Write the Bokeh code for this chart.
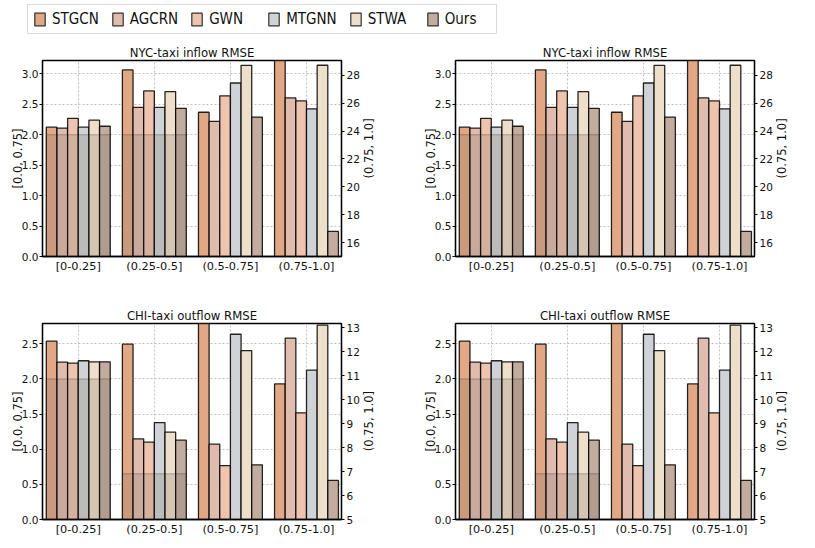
import math
import numpy as np
from bokeh.plotting import figure
from bokeh.models import (Range1d, LinearAxis, FixedTicker, PrintfTickFormatter,
                          Legend, LegendItem)
from bokeh.layouts import column, row
from bokeh.embed import file_html
from bokeh.resources import INLINE
from bokeh.core.properties import value

# ---------------- data ----------------
groups = ["[0-0.25]", "(0.25-0.5]", "(0.5-0.75]", "(0.75-1.0]"]
models = ["STGCN", "AGCRN", "GWN", "MTGNN", "STWA", "Ours"]
colors = ["#E2A886", "#DFBCAE", "#EFC4AE", "#CFD2D7", "#EEDFCB", "#C1AC9E"]

# NYC-taxi inflow RMSE: first three groups read on left axis, last group on right axis
nyc_stgcn = [2.125, 3.065, 2.37, 29.6]
nyc_agcrn = [2.11, 2.45, 2.22, 26.38]
nyc_gwn = [2.27, 2.72, 2.64, 26.17]
nyc_mtgnn = [2.125, 2.45, 2.85, 25.6]
nyc_stwa = [2.24, 2.71, 3.14, 28.73]
nyc_ours = [2.14, 2.435, 2.29, 16.8]
nyc_shade = [2.0, 2.0]
nyc_left_ticks = [0.0, 0.5, 1.0, 1.5, 2.0, 2.5, 3.0]
nyc_right_ticks = [16, 18, 20, 22, 24, 26, 28]
nyc_left_range = (0.0, 3.22)
nyc_right_range = (15.0, 29.07)

# CHI-taxi outflow RMSE
chi_stgcn = [2.538, 2.495, 2.9, 10.66]
chi_agcrn = [2.24, 1.148, 1.072, 12.57]
chi_gwn = [2.225, 1.10, 0.768, 9.45]
chi_mtgnn = [2.26, 1.38, 2.637, 11.23]
chi_stwa = [2.245, 1.243, 2.405, 13.11]
chi_ours = [2.245, 1.129, 0.778, 6.63]
chi_shade = [2.0, 0.65]
chi_left_ticks = [0.0, 0.5, 1.0, 1.5, 2.0, 2.5]
chi_right_ticks = [5, 6, 7, 8, 9, 10, 11, 12, 13]
chi_left_range = (0.0, 2.79)
chi_right_range = (5.0, 13.18)

left_label = "[0.0, 0.75]"
right_label = "(0.75, 1.0]"

nyc = [nyc_stgcn, nyc_agcrn, nyc_gwn, nyc_mtgnn, nyc_stwa, nyc_ours]
chi = [chi_stgcn, chi_agcrn, chi_gwn, chi_mtgnn, chi_stwa, chi_ours]

FONT = "DejaVu Sans"
TXT = "#111111"
BAR_W = 0.14
SHADE_COLOR = "#7a6a5e"
X_RANGE = (-0.47, 3.46)
FRAME_W, FRAME_H = 299, 196
B_LEFT, B_RIGHT = 42, 18


def panel(title, series, shade, lticks, rticks, lrange, rrange,
          border_top, border_bottom):
    p = figure(frame_width=FRAME_W, frame_height=FRAME_H, output_backend="svg",
               toolbar_location=None,
               x_range=Range1d(*X_RANGE), y_range=Range1d(*lrange),
               min_border_left=B_LEFT, min_border_right=B_RIGHT,
               min_border_top=border_top, min_border_bottom=border_bottom)
    p.extra_y_ranges = {"r": Range1d(*rrange)}
    p.title.text = title
    p.title.align = "center"
    p.title.text_font = FONT
    p.title.text_font_size = "11.7px"
    p.title.text_font_style = "normal"
    p.title.text_color = TXT
    p.title.standoff = 2
    p.outline_line_color = "black"
    p.outline_line_width = 1.3

    n_groups = len(groups)
    gidx = np.arange(n_groups)
    n_left = n_groups - 1
    for i, (vals, col) in enumerate(zip(series, colors)):
        off = (i - (len(series) - 1) / 2) * BAR_W
        p.vbar(x=list(gidx[:n_left] + off), top=vals[:n_left], bottom=0,
               width=BAR_W, fill_color=col, line_color="black",
               line_width=1.3, line_alpha=0.85)
        p.vbar(x=[gidx[n_left] + off], top=[vals[n_left]], bottom=0,
               width=BAR_W, fill_color=col, line_color="black",
               line_width=1.3, line_alpha=0.85, y_range_name="r")
    for g, s in enumerate(shade):
        for i in range(len(series)):
            off = (i - (len(series) - 1) / 2) * BAR_W
            p.vbar(x=[g + off], top=[s], bottom=0, width=BAR_W,
                   fill_color=SHADE_COLOR, fill_alpha=0.22,
                   line_color="black", line_alpha=0.25, line_width=1.0)

    # axes
    xa = p.xaxis[0]
    xa.ticker = FixedTicker(ticks=list(gidx))
    xa.major_label_overrides = {int(k): groups[k] for k in gidx}
    xa.major_label_text_font = FONT
    xa.major_label_text_font_size = "11.3px"
    xa.major_label_text_color = TXT
    xa.major_label_standoff = 3
    xa.major_tick_in = 0
    xa.major_tick_out = 0
    xa.minor_tick_line_color = None
    xa.axis_line_width = 1.3

    ya = p.yaxis[0]
    ya.ticker = FixedTicker(ticks=lticks)
    ya.formatter = PrintfTickFormatter(format="%.1f")
    ya.axis_label = left_label
    ya.axis_label_text_font = FONT
    ya.axis_label_text_font_size = "11.5px"
    ya.axis_label_text_font_style = "normal"
    ya.axis_label_text_color = TXT
    ya.axis_label_standoff = -6
    ya.major_label_text_font = FONT
    ya.major_label_text_font_size = "10.5px"
    ya.major_label_text_color = TXT
    ya.major_label_standoff = 1
    ya.major_tick_in = 0
    ya.major_tick_out = 3
    ya.minor_tick_line_color = None
    ya.axis_line_width = 1.3

    ra = LinearAxis(y_range_name="r", ticker=FixedTicker(ticks=rticks))
    ra.major_label_text_font = FONT
    ra.major_label_text_font_size = "10.5px"
    ra.major_label_text_color = TXT
    ra.major_label_standoff = 2
    ra.major_tick_in = 0
    ra.major_tick_out = 3
    ra.minor_tick_line_color = None
    ra.axis_line_width = 1.3
    p.add_layout(ra, "right")

    p.xgrid.ticker = FixedTicker(ticks=list(gidx))
    p.ygrid.ticker = FixedTicker(ticks=lticks)
    p.grid.grid_line_color = "#b0b0b0"
    p.grid.grid_line_dash = "2 2"
    p.grid.grid_line_width = 0.8
    return p


def right_title(width, border_top, border_bottom):
    """Narrow strip carrying the right-axis title, read bottom-to-top."""
    h = border_top + FRAME_H + border_bottom
    f = figure(width=width, height=h, output_backend="svg", toolbar_location=None,
               x_axis_type=None, y_axis_type=None, min_border=0,
               x_range=Range1d(0, width), y_range=Range1d(0, h))
    f.grid.visible = False
    f.outline_line_color = None
    f.text(x=[6], y=[border_bottom + FRAME_H / 2], text=[right_label],
           angle=math.pi / 2, text_align="center", text_baseline="middle",
           text_font=value(FONT), text_font_size=value("11.5px"),
           text_color=TXT)
    return f


TOP_T, TOP_B = 20, 47
BOT_T, BOT_B = 20, 21

p1 = panel("NYC-taxi inflow RMSE", nyc, nyc_shade, nyc_left_ticks, nyc_right_ticks,
           nyc_left_range, nyc_right_range, TOP_T, TOP_B)
p2 = panel("NYC-taxi inflow RMSE", nyc, nyc_shade, nyc_left_ticks, nyc_right_ticks,
           nyc_left_range, nyc_right_range, TOP_T, TOP_B)
p3 = panel("CHI-taxi outflow RMSE", chi, chi_shade, chi_left_ticks, chi_right_ticks,
           chi_left_range, chi_right_range, BOT_T, BOT_B)
p4 = panel("CHI-taxi outflow RMSE", chi, chi_shade, chi_left_ticks, chi_right_ticks,
           chi_left_range, chi_right_range, BOT_T, BOT_B)

PANEL_W = B_LEFT + FRAME_W + B_RIGHT
GAP_W = 410 - PANEL_W
END_W = 40

# legend strip
pl = figure(width=2 * PANEL_W + GAP_W + END_W, height=40, output_backend="svg",
            toolbar_location=None, x_axis_type=None, y_axis_type=None, min_border=0,
            x_range=Range1d(0, 1), y_range=Range1d(0, 1))
pl.grid.visible = False
pl.outline_line_color = None
items = []
for m, c in zip(models, colors):
    # proxy bars kept out of view; they only feed the legend swatches
    r = pl.vbar(x=[-5], top=[-4], bottom=-5, width=0.1, fill_color=c,
                line_color="#333333", line_width=1.2)
    items.append(LegendItem(label=m, renderers=[r]))
leg = Legend(items=items, orientation="horizontal", location=(27, 6), margin=0,
             border_line_color="#b5b5b5", border_line_width=1.5,
             padding=5, spacing=12, glyph_width=13, glyph_height=16,
             label_standoff=6, label_width=46, label_height=16,
             label_text_font="Liberation Sans Narrow, DejaVu Sans Condensed, Roboto",
             label_text_font_size="15px", label_text_color=TXT)
pl.add_layout(leg, "center")

layout = column(
    pl,
    row(p1, right_title(GAP_W, TOP_T, TOP_B), p2, right_title(END_W, TOP_T, TOP_B)),
    row(p3, right_title(GAP_W, BOT_T, BOT_B), p4, right_title(END_W, BOT_T, BOT_B)),
)
open("out.html", "w").write(file_html(layout, INLINE))
